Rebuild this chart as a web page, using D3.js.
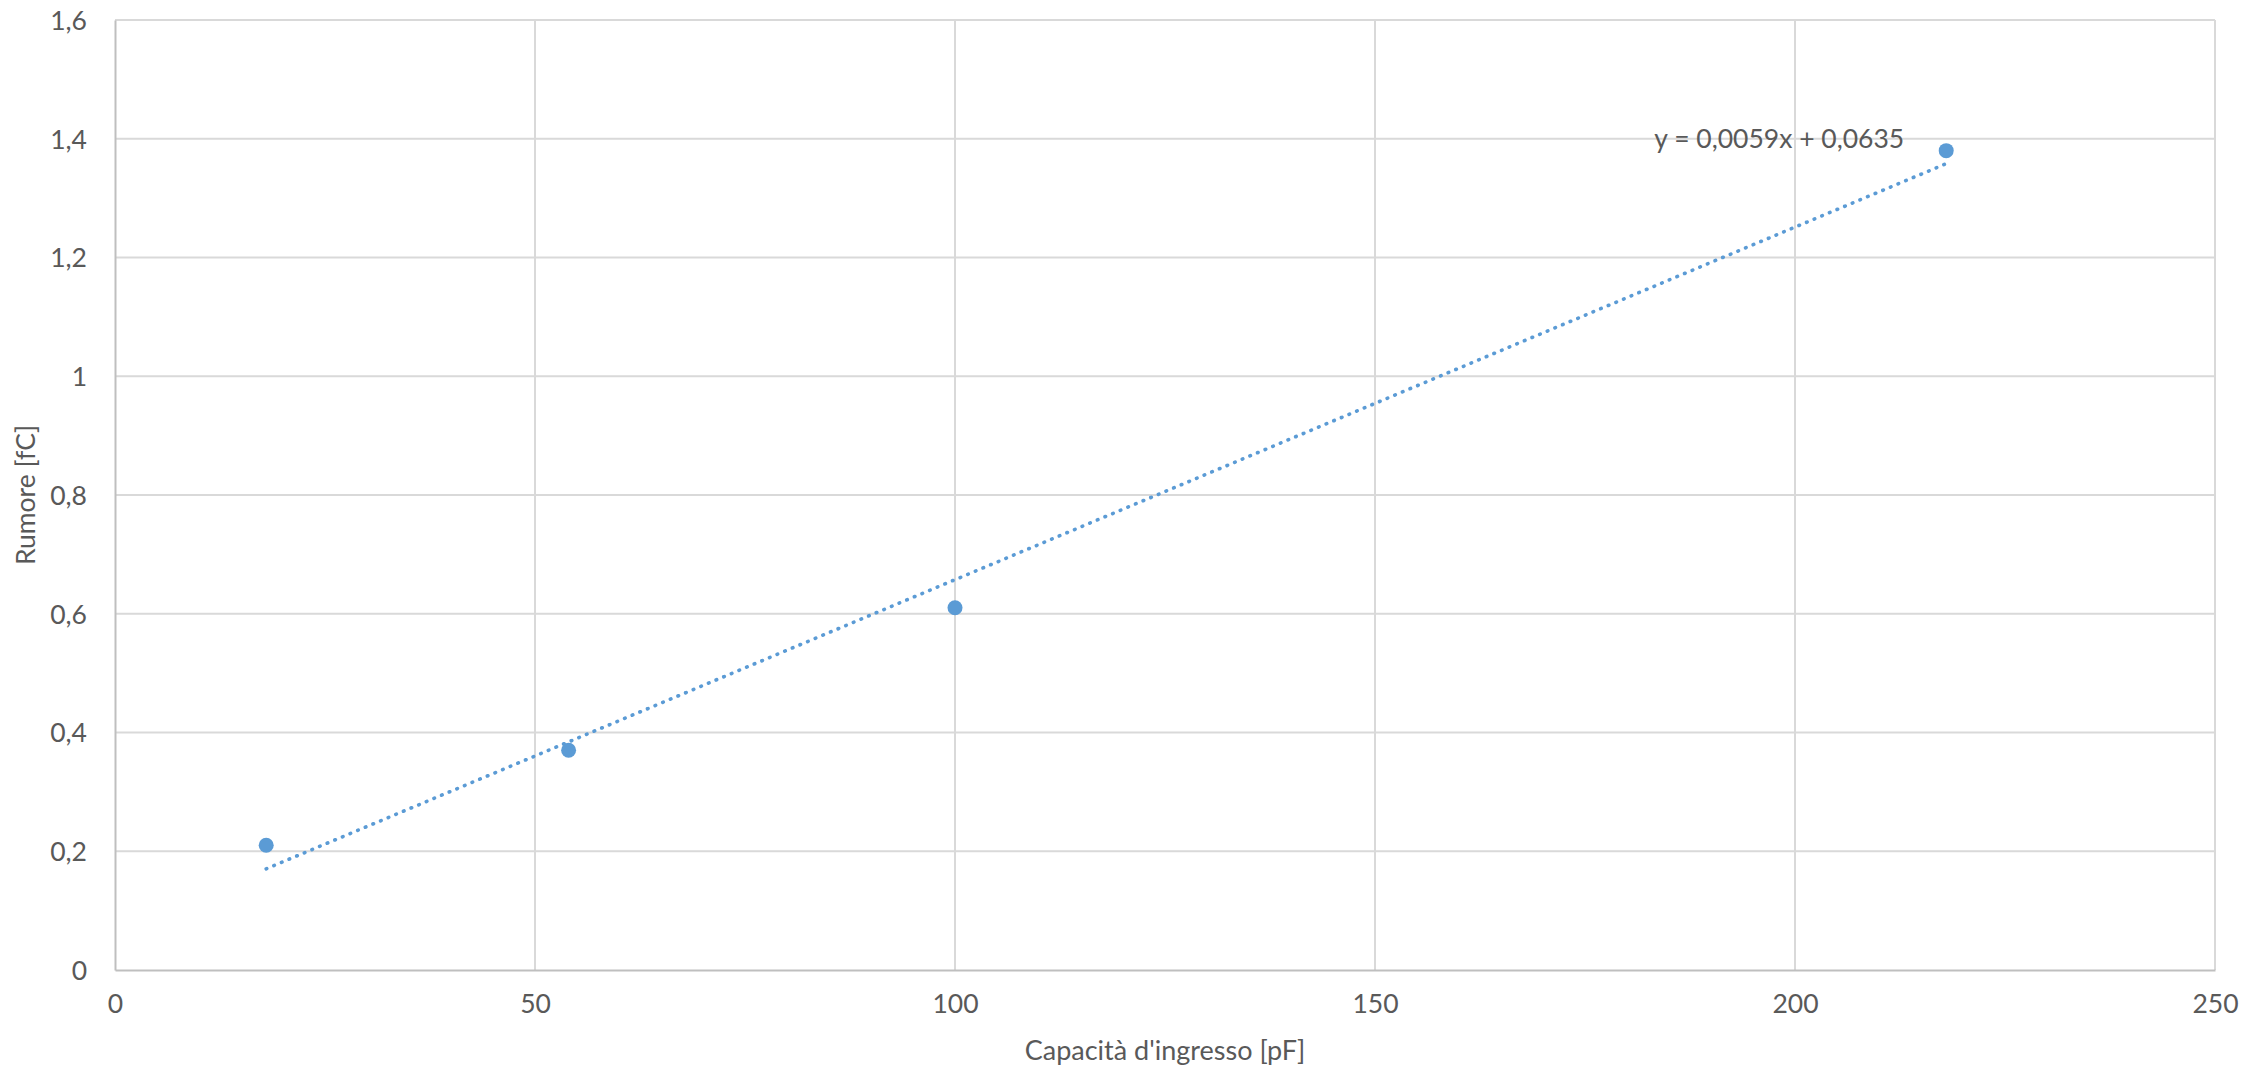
<!DOCTYPE html>
<html>
<head>
<meta charset="utf-8">
<script src="https://cdn.jsdelivr.net/npm/d3@7"></script>
<style>
  html, body { margin: 0; padding: 0; background: #ffffff; }
  svg { display: block; }
  text { font-family: Lato, "Open Sans", sans-serif; fill: #595959; }
</style>
</head>
<body>
<svg id="chart" width="2264" height="1070"></svg>
<script>
// Data
const capacitance = [18, 54, 100, 218];        // pF
const noise = [0.21, 0.37, 0.61, 1.38];        // fC
const xTicks = [0, 50, 100, 150, 200, 250];
const yTicks = [0, 0.2, 0.4, 0.6, 0.8, 1.0, 1.2, 1.4, 1.6];
const trendLabel = "y = 0,0059x + 0,0635";
const xTitle = "Capacità d'ingresso [pF]";
const yTitle = "Rumore [fC]";

// linear least-squares trendline from the data
const mx = d3.mean(capacitance), my = d3.mean(noise);
const sxy = d3.sum(capacitance, (c, i) => (c - mx) * (noise[i] - my));
const sxx = d3.sum(capacitance, c => (c - mx) * (c - mx));
const trendSlope = sxy / sxx;
const trendIntercept = my - trendSlope * mx;

const W = 2264, H = 1070;
const margin = { left: 115, right: 49, top: 20, bottom: 100 };
const svg = d3.select("#chart");

const x = d3.scaleLinear().domain([0, 250]).range([margin.left, W - margin.right]);
const y = d3.scaleLinear().domain([0, 1.6]).range([H - margin.bottom, margin.top]);

const fmt = d => d3.format("~g")(d).replace(".", ",");
const FS = 26.5;

// gridlines
svg.append("g").selectAll("line").data(yTicks.filter(d => d > 0)).join("line")
  .attr("x1", x(0)).attr("x2", x(250))
  .attr("y1", d => y(d)).attr("y2", d => y(d))
  .attr("stroke", "#d9d9d9").attr("stroke-width", 2);
svg.append("g").selectAll("line").data(xTicks.filter(d => d > 0)).join("line")
  .attr("y1", y(0)).attr("y2", y(1.6))
  .attr("x1", d => x(d)).attr("x2", d => x(d))
  .attr("stroke", "#d9d9d9").attr("stroke-width", 2);

// axes
const xAxis = svg.append("g").attr("transform", `translate(0,${y(0)})`)
  .call(d3.axisBottom(x).tickValues(xTicks).tickFormat(fmt).tickSize(0).tickPadding(23));
const yAxis = svg.append("g").attr("transform", `translate(${x(0)},0)`)
  .call(d3.axisLeft(y).tickValues(yTicks).tickFormat(fmt).tickSize(0).tickPadding(28));
[xAxis, yAxis].forEach(g => {
  g.select(".domain").attr("stroke", "#bfbfbf").attr("stroke-width", 2);
  g.selectAll("text").style("font-family", "Lato, 'Open Sans', sans-serif")
    .style("font-size", FS + "px").attr("fill", "#595959");
});
yAxis.selectAll("text").attr("dy", "0.35em");
xAxis.selectAll("text").attr("dy", "0.75em");

// trendline
const tx = d3.extent(capacitance);
svg.append("line")
  .attr("x1", x(tx[0])).attr("y1", y(trendSlope * tx[0] + trendIntercept))
  .attr("x2", x(tx[1])).attr("y2", y(trendSlope * tx[1] + trendIntercept))
  .attr("stroke", "#5b9bd5").attr("stroke-width", 3.6)
  .attr("stroke-linecap", "round").attr("stroke-dasharray", "0.6 7.67");

// points
svg.append("g").selectAll("circle").data(capacitance.map((c, i) => [c, noise[i]])).join("circle")
  .attr("cx", d => x(d[0])).attr("cy", d => y(d[1])).attr("r", 7.5)
  .attr("fill", "#5b9bd5");

// trend label
svg.append("text")
  .attr("x", x(218) - 42).attr("y", y(1.38) - 13)
  .attr("text-anchor", "end").attr("dominant-baseline", "central")
  .style("font-size", FS + "px").text(trendLabel);

// axis titles
svg.append("text")
  .attr("x", (x(0) + x(250)) / 2).attr("y", 1060)
  .attr("text-anchor", "middle").style("font-size", "27px").text(xTitle);
svg.append("text")
  .attr("transform", `translate(35,${(y(0) + y(1.6)) / 2}) rotate(-90)`)
  .attr("text-anchor", "middle").style("font-size", FS + "px").text(yTitle);
</script>
</body>
</html>
